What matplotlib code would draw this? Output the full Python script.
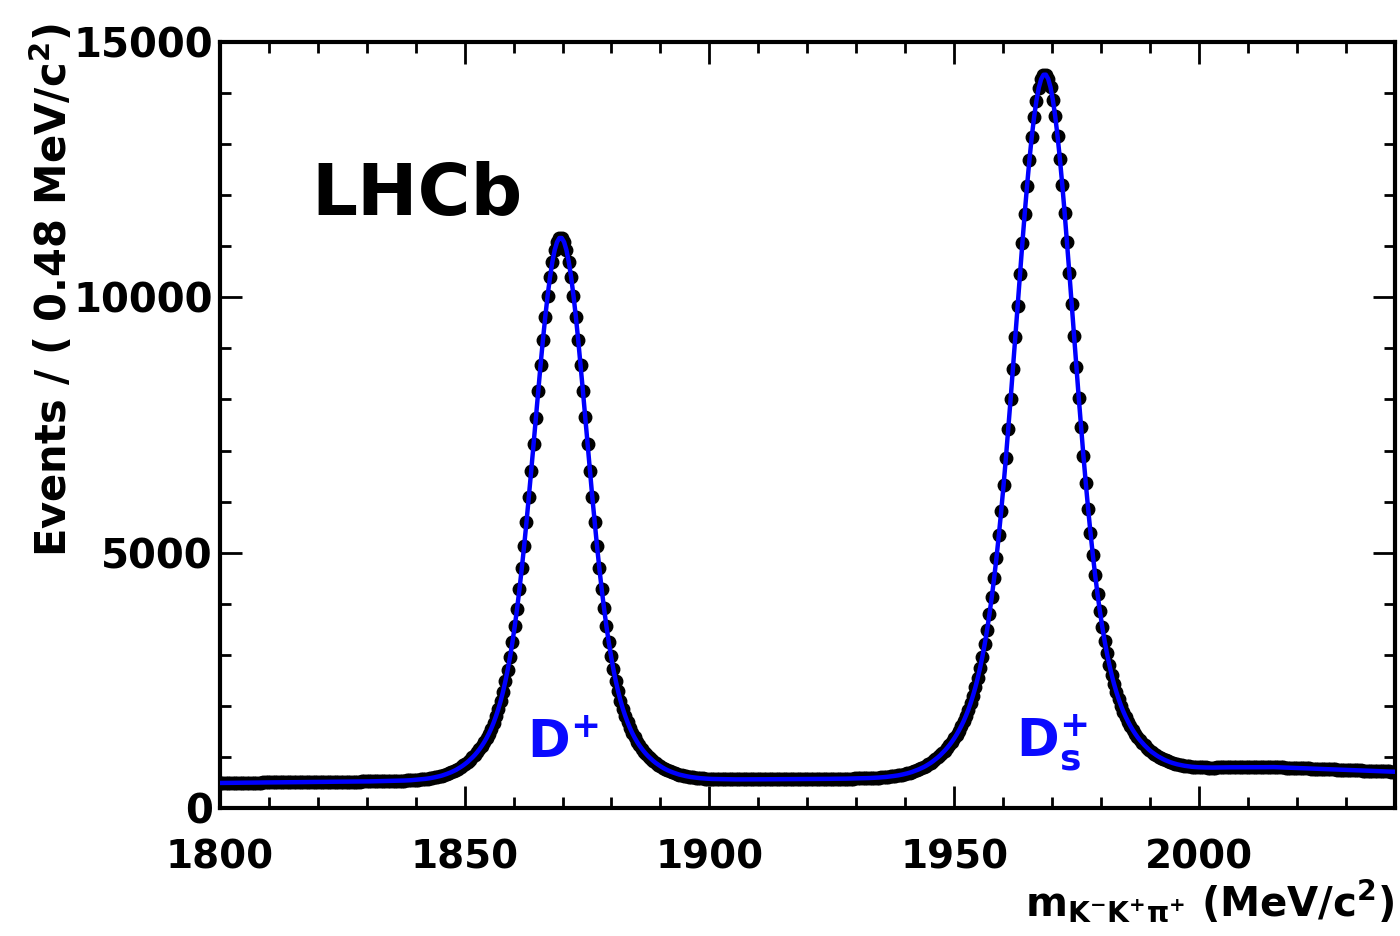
import numpy as np
import matplotlib.pyplot as plt
from matplotlib.ticker import MultipleLocator

plt.rcParams['font.family'] = 'DejaVu Sans'
plt.rcParams['font.weight'] = 'bold'
plt.rcParams['mathtext.fontset'] = 'dejavusans'
plt.rcParams['mathtext.default'] = 'bf'

bin_width = 0.48  # MeV/c^2
m_low = 1800.0

# events per bin, 1800-1833.6
counts_low = [
    490, 490, 491, 491, 492, 492, 493, 493, 494, 494,
    495, 495, 496, 496, 497, 497, 498, 498, 499, 499,
    500, 500, 501, 501, 502, 502, 503, 503, 503, 504,
    504, 505, 505, 506, 506, 507, 507, 508, 508, 509,
    509, 510, 510, 511, 511, 512, 512, 513, 513, 514,
    514, 515, 515, 516, 516, 517, 517, 517, 518, 518,
    519, 519, 520, 520, 521, 522, 523, 523, 524, 525,
]

# D+ peak region, 1833.6-1905.6
counts_dplus = [
    526, 527, 528, 529, 531, 532, 534, 535, 537, 539,
    542, 544, 548, 551, 555, 559, 565, 570, 576, 583,
    591, 601, 611, 622, 634, 649, 665, 682, 701, 722,
    745, 772, 801, 832, 866, 903, 945, 989, 1037, 1091,
    1150, 1215, 1287, 1367, 1457, 1556, 1669, 1795, 1935, 2094,
    2274, 2478, 2705, 2958, 3242, 3556, 3903, 4281, 4690, 5130,
    5597, 6088, 6597, 7119, 7646, 8169, 8679, 9167, 9621, 10033,
    10393, 10693, 10925, 11082, 11162,
    11162, 11083, 10926, 10694, 10395,
    10035, 9624, 9170, 8682, 8173, 7650, 7124, 6602, 6093, 5603,
    5136, 4697, 4288, 3910, 3564, 3250, 2967, 2714, 2487, 2284,
    2104, 1946, 1806, 1680, 1568, 1469, 1380, 1300, 1228, 1164,
    1105, 1052, 1004, 960, 919, 882, 849, 818, 789, 763,
    740, 720, 701, 684, 669, 654, 643, 632, 622, 613,
    605, 599, 593, 588, 583, 579, 576, 573, 570, 568,
    567, 565, 564, 564, 563, 562, 561, 561, 561, 560,
]

# between the two peaks, 1905.6-1932.5
counts_mid = [
    561, 560, 560, 561, 561, 560, 560, 561, 561, 561,
    562, 562, 562, 563, 563, 563, 563, 564, 564, 564,
    565, 565, 565, 566, 566, 566, 566, 567, 567, 567,
    568, 568, 568, 569, 569, 569, 569, 570, 570, 570,
    572, 572, 572, 573, 573, 574, 574, 575, 576, 576,
    578, 579, 579, 581, 583, 584,
]

# Ds+ peak region, 1932.5-2004.5
counts_ds = [
    586, 588, 590, 592, 596, 599, 603, 607, 612, 617,
    624, 630, 637, 645, 655, 665, 677, 690, 704, 721,
    737, 757, 778, 800, 825, 854, 882, 915, 951, 989,
    1029, 1075, 1124, 1176, 1232, 1294, 1361, 1435, 1516, 1603,
    1699, 1806, 1922, 2054, 2200, 2360, 2541, 2741, 2964, 3213,
    3488, 3795, 4132, 4501, 4903, 5342, 5813, 6317, 6852, 7416,
    8001, 8604, 9219, 9839, 10454, 11056, 11634, 12181, 12686, 13138,
    13530, 13854, 14105, 14273, 14359,
    14361, 14278, 14111, 13863, 13542,
    13151, 12702, 12200, 11655, 11079, 10480, 9867, 9250, 8637, 8036,
    7454, 6893, 6359, 5858, 5390, 4954, 4553, 4187, 3853, 3548,
    3275, 3029, 2808, 2610, 2432, 2274, 2131, 2001, 1887, 1783,
    1690, 1604, 1526, 1455, 1390, 1330, 1277, 1227, 1181, 1137,
    1099, 1065, 1033, 1004, 979, 954, 932, 913, 896, 880,
    867, 854, 844, 834, 826, 819, 812, 807, 803, 800,
    797, 795, 793, 793, 792, 792, 791, 792, 793, 794,
]

# upper sideband, 2004.5-2040
counts_high = [
    796, 798, 796, 796, 796, 796, 795, 796, 795, 796,
    796, 796, 796, 797, 797, 797, 797, 798, 798, 799,
    799, 800, 800, 798, 797, 795, 793, 791, 789, 788,
    786, 784, 782, 781, 779, 777, 775, 774, 772, 770,
    768, 767, 765, 763, 761, 759, 758, 756, 754, 752,
    751, 749, 747, 745, 744, 742, 740, 738, 737, 735,
    733, 731, 729, 728, 726, 724, 722, 721, 719, 717,
    715, 714, 712, 710,
]

counts = np.concatenate([counts_low, counts_dplus, counts_mid, counts_ds, counts_high])
mass = m_low + bin_width * (np.arange(len(counts)) + 0.5)

fig = plt.figure(figsize=(14, 9.36), dpi=100)
ax = fig.add_axes([0.157, 0.1368, 0.8393, 0.8183])

# data points and fit curve
ax.plot(mass, counts, 'o', color='black', ms=9, zorder=2)
ax.plot(mass, counts, '-', color='#0000ff', lw=3.2, zorder=3)

ax.set_xlim(1800, 2040)
ax.set_ylim(0, 15000)
ax.xaxis.set_major_locator(MultipleLocator(50))
ax.xaxis.set_minor_locator(MultipleLocator(10))
ax.yaxis.set_major_locator(MultipleLocator(5000))
ax.yaxis.set_minor_locator(MultipleLocator(1000))
ax.tick_params(which='both', direction='in', top=True, right=True, width=2)
ax.tick_params(which='major', length=16)
ax.tick_params(which='minor', length=8)
ax.tick_params(axis='x', pad=22, labelsize=28)
ax.tick_params(axis='y', pad=5, labelsize=29)
for sp in ax.spines.values():
    sp.set_linewidth(3)

fig.text(0.037, 0.975, r'Events / ( 0.48 MeV/c$^{2}$)', rotation=90,
         ha='center', va='top', fontsize=30, fontweight='bold')
fig.text(0.996, 0.012, r'$m_{K^{-}K^{+}\pi^{+}}$ (MeV/c$^{2}$)',
         ha='right', va='bottom', fontsize=29, fontweight='bold')

ax.text(0.078, 0.774, 'LHCb', transform=ax.transAxes, fontsize=52,
        fontweight='bold', va='baseline')
ax.text(1870, 1000, r'$D^{+}$', color='#0a0aff', fontsize=37, ha='center', va='baseline')
ax.text(1970, 1000, r'$D_{s}^{+}$', color='#0a0aff', fontsize=37, ha='center', va='baseline')

fig.savefig('out.png', dpi=100, facecolor='white')
